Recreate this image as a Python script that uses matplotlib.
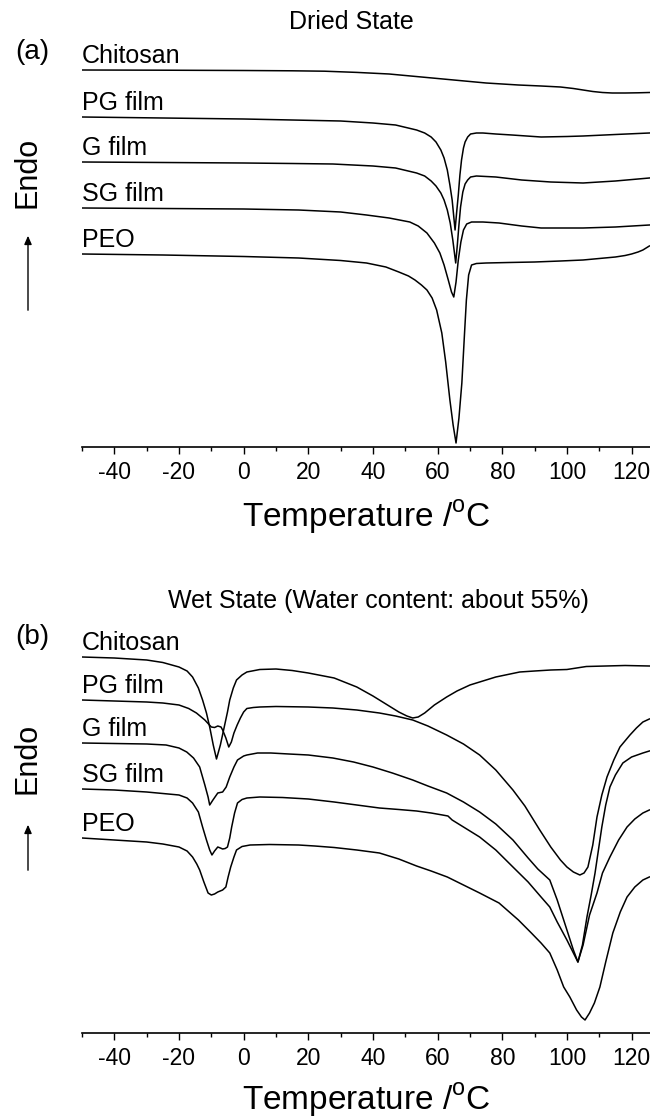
import matplotlib
matplotlib.use("Agg")
import matplotlib.pyplot as plt
from matplotlib.patches import FancyArrowPatch
from matplotlib.ticker import MultipleLocator

plt.rcParams['font.family'] = ['Liberation Sans', 'DejaVu Sans']
plt.rcParams['mathtext.fontset'] = 'custom'
plt.rcParams['mathtext.rm'] = 'Liberation Sans'
plt.rcParams['axes.unicode_minus'] = False

names = ["Chitosan", "PG film", "G film", "SG film", "PEO"]

# (a) dried state: temperature (C) and heat flow (a.u., endo up, curves stacked)
t_chi_a = [-50, -25, 0, 15, 25, 35, 45, 55, 65, 75, 85, 92, 98, 102, 105, 108, 111, 114, 118, 122, 125.5]
hf_chi_a = [-5.0, -5.02, -5.05, -5.08, -5.12, -5.24, -5.4, -5.7, -6.0, -6.3, -6.5, -6.6, -6.7, -6.85, -7.0,
            -7.15, -7.25, -7.3, -7.3, -7.28, -7.25]

t_pg_a = [-50, -25, 0, 15, 30, 40, 47, 53.5, 56, 58, 59.5, 61, 62, 63, 63.8, 64.5, 65.4, 65.9, 66.4, 66.9,
          67.4, 68, 68.5, 69.3, 70.2, 72, 74, 78, 83, 92, 100, 105, 115, 125.5]
hf_pg_a = [-9.7, -9.8, -9.9, -10.0, -10.1, -10.3, -10.5, -11.0, -11.3, -11.7, -12.2, -13.0, -13.8, -15.0,
           -16.5, -18.0, -21.0, -19.2, -17.5, -15.5, -14.0, -12.8, -12.2, -11.7, -11.4, -11.3, -11.3, -11.4,
           -11.5, -11.7, -11.65, -11.6, -11.45, -11.3]

t_g_a = [-50, -25, 0, 15, 27.6, 40, 47, 53.5, 56, 58, 59.5, 61, 62, 63, 63.9, 64.7, 65.6, 66.1, 66.6, 67.1,
         67.8, 68.5, 69.3, 70.2, 72, 75, 78, 86, 95, 105, 115, 125.5]
hf_g_a = [-14.2, -14.25, -14.3, -14.35, -14.4, -14.6, -14.8, -15.3, -15.6, -16.1, -16.6, -17.3, -18.0, -19.0,
          -20.3, -22.0, -24.3, -22.5, -20.5, -18.7, -17.2, -16.4, -16.0, -15.7, -15.6, -15.65, -15.7, -16.0,
          -16.2, -16.3, -16.1, -15.8]

t_sg_a = [-50, -25, 0, 17, 30, 38, 45, 51.4, 54, 56.7, 59, 60.7, 62, 63.3, 64.3, 65, 65.7, 66.4, 67.2, 68,
          69, 70.5, 74, 79, 86, 92, 105, 115, 125.5]
hf_sg_a = [-18.8, -18.85, -18.9, -19.0, -19.2, -19.5, -19.8, -20.2, -20.6, -21.3, -22.3, -23.3, -24.5, -26.0,
           -27.2, -27.7, -26.2, -24.0, -22.2, -21.0, -20.4, -20.2, -20.2, -20.3, -20.6, -20.8, -20.8, -20.7,
           -20.5]

t_peo_a = [-50, -25, 0, 17, 30, 38, 44, 48, 51, 53, 55, 56.7, 58.3, 59.7, 61.3, 62.5, 63.8, 64.8, 65.7, 66.6,
           67.5, 68.3, 68.9, 69.6, 70.5, 72, 75, 82, 90, 98, 105, 110, 115, 118, 120, 122, 123.5, 125.5]
hf_peo_a = [-23.4, -23.5, -23.65, -23.8, -24.05, -24.3, -24.7, -25.2, -25.6, -26.0, -26.5, -27.0, -27.8,
            -29.0, -31.3, -34.2, -38.0, -40.5, -42.3, -39.8, -36.3, -31.5, -28.0, -25.5, -24.5, -24.35, -24.3,
            -24.25, -24.2, -24.1, -24.0, -23.85, -23.7, -23.55, -23.4, -23.2, -23.0, -22.6]

# (b) wet state
t_chi_b = [-50, -40, -30, -25, -20, -17.5, -15.8, -14, -12.7, -11.5, -10.5, -9.4, -8.4, -7.2, -6, -5, -4.3,
           -3.2, -2.2, -0.5, 1, 5, 10, 15, 20, 28, 35, 40, 44, 48, 50.5, 52.3, 54, 56, 59, 62.8, 66, 70, 73,
           78, 85.4, 90, 95, 100, 103, 106, 112, 118, 125.5]
hf_chi_b = [-5.7, -5.8, -6.0, -6.25, -6.7, -7.1, -7.7, -8.8, -10.0, -11.3, -12.7, -14.5, -15.9, -14.5, -12.7,
            -11.2, -10.0, -8.8, -8.0, -7.5, -7.2, -6.95, -6.9, -7.05, -7.3, -7.8, -8.7, -9.6, -10.4, -11.2,
            -11.6, -11.8, -11.7, -11.3, -10.5, -9.7, -9.1, -8.5, -8.2, -7.7, -7.2, -7.1, -7.0, -6.95, -6.8,
            -6.65, -6.6, -6.55, -6.6]

t_pg_b = [-50, -40, -30, -25, -20, -17, -14.6, -12, -10, -9, -8, -7, -6.5, -5.5, -4.6, -3.8, -3, -2, -1, 0,
          1, 3, 5, 10, 20, 27.6, 35, 42, 47, 52.3, 57, 62.8, 68, 73, 78, 83.3, 87, 91.6, 95, 98, 100, 102,
          104, 105.3, 106.5, 108, 109.3, 110.8, 112.4, 114.5, 116.4, 119.5, 121.5, 123.5, 125.5]
hf_pg_b = [-10.0, -10.1, -10.2, -10.3, -10.5, -10.85, -11.3, -12.0, -12.7, -12.75, -12.6, -12.7, -13.0,
           -13.8, -14.7, -14.2, -13.3, -12.5, -11.8, -11.2, -10.85, -10.75, -10.7, -10.65, -10.7, -10.8,
           -11.0, -11.3, -11.6, -12.0, -12.6, -13.5, -14.4, -15.5, -17.0, -19.0, -20.6, -23.0, -24.7, -26.0,
           -26.7, -27.2, -27.5, -27.3, -26.7, -24.5, -21.7, -19.5, -17.7, -16.0, -14.7, -13.5, -12.8, -12.2,
           -11.9]

t_g_b = [-50, -40, -30, -24, -20, -17.6, -15.5, -13.6, -12, -11, -10.5, -9.5, -8, -6.5, -5.4, -4.3, -3,
         -1.9, 0, 1, 4.3, 8.4, 14, 20, 27.6, 34, 40, 46, 52.3, 57, 62.8, 68, 73, 78, 83.3, 88, 91, 94.7, 97,
         100, 102, 103.4, 104.8, 106.2, 107.5, 108.7, 110.8, 112, 113.3, 115, 117.3, 120, 123.5, 125.5]
hf_g_b = [-14.3, -14.35, -14.4, -14.5, -14.8, -15.2, -15.8, -16.7, -18.5, -19.7, -20.5, -20.0, -19.3, -19.2,
          -18.7, -17.7, -16.7, -16.0, -15.6, -15.5, -15.3, -15.3, -15.4, -15.5, -15.8, -16.2, -16.7, -17.3,
          -18.0, -18.6, -19.3, -20.2, -21.2, -22.4, -24.0, -25.8, -26.9, -28.0, -30.0, -33.0, -35.0, -36.2,
          -34.5, -31.7, -29.5, -27.3, -22.7, -20.5, -18.7, -17.5, -16.3, -15.7, -15.3, -15.1]

t_sg_b = [-50, -40, -30, -20, -17.5, -15.8, -14, -12.7, -11.5, -10.5, -9.8, -9, -8, -7.2, -6.5, -5.7, -5,
          -4.3, -3.7, -2.8, -1.9, -0.5, 1, 5, 12, 20, 28, 35, 42, 48, 53.5, 58, 61.5, 63.2, 64.5, 68, 73, 78,
          83.3, 88, 92, 94.7, 97, 100, 102, 103.4, 105, 107, 109.3, 111, 113.3, 116, 118.6, 121, 123.5, 125.5]
hf_sg_b = [-18.9, -19.0, -19.2, -19.5, -19.8, -20.3, -21.2, -22.7, -24.0, -25.0, -25.5, -25.1, -24.7, -24.8,
           -24.9, -24.85, -24.7, -23.8, -22.7, -21.3, -20.3, -19.95, -19.8, -19.7, -19.75, -19.9, -20.2,
           -20.5, -20.8, -20.95, -21.1, -21.3, -21.5, -21.6, -22.0, -22.7, -23.7, -25.0, -26.7, -28.2, -29.7,
           -30.7, -32.2, -34.0, -35.3, -36.2, -34.5, -31.5, -29.3, -27.3, -25.7, -24.0, -22.7, -21.9, -21.3,
           -21.0]

t_peo_b = [-50, -40, -30, -25, -20, -17.5, -15.8, -14.5, -13.6, -12.3, -11, -10, -9, -8, -6.5, -5.5, -4.8,
           -4, -3, -2.2, -0.5, 2, 8, 17, 22, 28, 35, 42, 48, 53.5, 58, 63, 68, 73, 79, 85, 89, 92, 94.7, 97,
           99, 100.9, 103, 104.5, 105.6, 107, 108.5, 110.2, 112, 114.2, 116.5, 118.6, 121, 123.5, 125.5]
hf_peo_b = [-23.8, -24.0, -24.2, -24.4, -24.7, -25.1, -25.7, -26.4, -27.0, -28.2, -29.3, -29.5, -29.4,
            -29.2, -29.0, -28.7, -27.7, -26.7, -25.7, -25.0, -24.65, -24.5, -24.45, -24.5, -24.6, -24.75,
            -25.0, -25.3, -25.9, -26.6, -27.1, -27.7, -28.5, -29.3, -30.3, -32.0, -33.3, -34.3, -35.3,
            -37.0, -38.7, -39.7, -41.0, -41.7, -42.0, -41.3, -40.3, -38.7, -36.2, -33.3, -31.2, -29.7,
            -28.7, -28.0, -27.7]

dried = [(t_chi_a, hf_chi_a), (t_pg_a, hf_pg_a), (t_g_a, hf_g_a), (t_sg_a, hf_sg_a), (t_peo_a, hf_peo_a)]
wet = [(t_chi_b, hf_chi_b), (t_pg_b, hf_pg_b), (t_g_b, hf_g_b), (t_sg_b, hf_sg_b), (t_peo_b, hf_peo_b)]

W, H = 650, 1119


def fp(x, y):
    # pixel position (from top-left) -> figure fraction
    return x / W, 1 - y / H


fig = plt.figure(figsize=(6.5, 11.19), dpi=100)


def panel(bottom_px, ylim, curves, title, title_x, title_y, tag, tag_y, endo_y, arrow_y0, arrow_y1, xlab_y):
    ax = fig.add_axes([82 / W, 1 - bottom_px / H, 568 / W, 407 / H])
    for (t, hf), name in zip(curves, names):
        ax.plot(t, hf, color='black', lw=1.1, solid_joinstyle='round')
        ax.text(-50, hf[0] + 0.7, name, fontsize=18, ha='left', va='baseline')
    ax.set_xlim(-50, 125.7)
    ax.set_ylim(*ylim)
    for s in ['left', 'right', 'top']:
        ax.spines[s].set_visible(False)
    ax.spines['bottom'].set_linewidth(1.2)
    ax.set_yticks([])
    ax.xaxis.set_major_locator(MultipleLocator(20))
    ax.xaxis.set_minor_locator(MultipleLocator(10))
    ax.tick_params(axis='x', which='major', length=5, width=1.0, labelsize=16.5, pad=5, direction='out')
    ax.tick_params(axis='x', which='minor', length=3, width=1.0, direction='out')
    ax.patch.set_visible(False)

    fig.text(*fp(title_x, title_y), title, fontsize=18, ha='center', va='center')
    fig.text(*fp(32, tag_y), tag, fontsize=20, ha='center', va='center')
    fig.text(*fp(28, endo_y), 'Endo', fontsize=22, rotation=90, ha='center', va='center')
    fig.add_artist(FancyArrowPatch(fp(28, arrow_y0), fp(28, arrow_y1), transform=fig.transFigure,
                                   arrowstyle='-|>,head_length=5,head_width=2.2', color='black',
                                   lw=1.0, mutation_scale=1))
    fig.text(*fp(366, xlab_y), r'Temperature /$^\mathregular{o}$C', fontsize=24, ha='center', va='center')
    return ax


panel(447, (-42.7, -2.0), dried, 'Dried State', 351, 22, '(a)', 52, 172, 313, 233, 517)
panel(1033, (-43.3, -2.6), wet, 'Wet State (Water content: about 55%)', 378, 601, '(b)', 637, 758, 873, 822, 1100)

fig.savefig('out.png', dpi=100)
